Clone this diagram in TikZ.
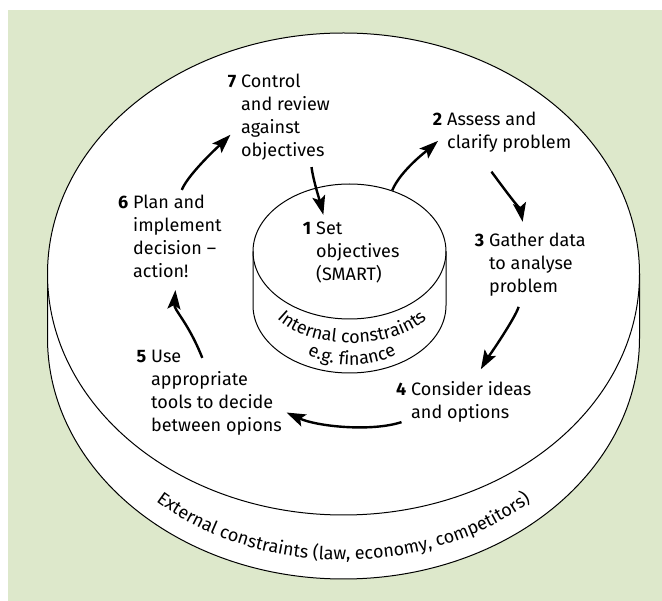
\documentclass[tikz,border=0pt]{standalone}
\usepackage{fontspec}
\setmainfont{Fira Sans}
\usetikzlibrary{arrows.meta}
\usetikzlibrary{positioning, shapes.geometric}
\usetikzlibrary{decorations.text}
\definecolor{envgreen}{RGB}{221,232,203}
\newcommand{\stagelines}[1]{\begin{tabular}[t]{@{}l@{}}#1\end{tabular}}

\begin{document}
\begin{tikzpicture}[
		x=1pt, y=-1pt,
		font=\fontsize{18}{23}\selectfont,
		rim/.style={line width=1pt},
		stage/.style={inner sep=0pt, anchor=base west},
		num/.style={font=\fontsize{18}{23}\selectfont\bfseries, inner sep=0pt, anchor=base east},
		flow/.style={line width=2.4pt, -{Stealth[length=19pt, width=13pt, inset=4pt]}},
		curved/.style={decorate, decoration={text along path, text align=center,
			text={|\fontsize{18}{23}\selectfont|#1}}}
	]
	\useasboundingbox (0,0) rectangle (662,601);
	\fill[envgreen] (8,10) rectangle (662,601);

	% outer cylinder
	\fill[white] (47.5,274) -- (47.5,338) arc[start angle=180, end angle=360, x radius=296pt, y radius=241pt] -- (639.5,274) -- cycle;
	\draw[rim] (47.5,274) -- (47.5,338) arc[start angle=180, end angle=360, x radius=296pt, y radius=241pt] -- (639.5,274);
	\node[rim, ellipse, draw, fill=white, inner sep=0pt, minimum width=592pt, minimum height=482pt] (outer) at (343.5,274) {};

	% inner cylinder
	\draw[rim] (253,251.5) -- (253,305.5) arc[start angle=180, end angle=360, x radius=96.5pt, y radius=67.5pt] -- (446,251.5);
	\node[rim, ellipse, draw, inner sep=0pt, minimum width=193pt, minimum height=135pt] (inner) at (349.5,251.5) {};

	\path[curved={Internal constraints}] (267,297) arc[start angle=180, end angle=360, x radius=85pt, y radius=46pt];
	\path[curved={e.g. finance}] (272,303) arc[start angle=180, end angle=360, x radius=80pt, y radius=62pt];
	\path[curved={External constraints (law, economy, competitors)}] (66.5,338) arc[start angle=180, end angle=360, x radius=277pt, y radius=222pt];

	\node[stage] (set) at (316,235) {\stagelines{Set\\objectives\\(SMART)}};
	\node[num] (n1) at ([xshift=-4.5pt]set.base west) {1};
	\node[stage] (assess) at (447,126) {\stagelines{Assess and\\clarify problem}};
	\node[num] (n2) at ([xshift=-4.5pt]assess.base west) {2};
	\node[stage] (gather) at (489,247) {\stagelines{Gather data\\to analyse\\problem}};
	\node[num] (n3) at ([xshift=-4.5pt]gather.base west) {3};
	\node[stage] (consider) at (411,396) {\stagelines{Consider ideas\\and options}};
	\node[num] (n4) at ([xshift=-4.5pt]consider.base west) {4};
	\node[stage] (use) at (151,363) {\stagelines{Use\\appropriate\\tools to decide\\between opions}};
	\node[num] (n5) at ([xshift=-4.5pt]use.base west) {5};
	\node[stage] (plan) at (133,209) {\stagelines{Plan and\\implement\\decision --\\action!}};
	\node[num] (n6) at ([xshift=-4.5pt]plan.base west) {6};
	\node[stage] (control) at (241,88) {\stagelines{Control\\and review\\against\\objectives}};
	\node[num] (n7) at ([xshift=-4.5pt]control.base west) {7};

	\draw[flow, shorten <=3pt, shorten >=4pt] (control.-61) .. controls +(2,16) and +(-4,-16) .. (set.134);
	\draw[flow, shorten >=12pt] (inner.55) .. controls +(8,-20) and +(-18,16) .. (assess.west);
	\draw[flow, shorten <=18pt, shorten >=9pt] (assess.-139) .. controls +(8,14) and +(-3,-18) .. (gather.111);
	\draw[flow, shorten <=7pt, shorten >=12pt] (gather.-116) .. controls +(-5,18) and +(8,-14) .. (consider.81);
	\draw[flow, shorten <=10pt, shorten >=5pt] (consider.195) .. controls +(-40,13) and +(35,16) .. (use.-15);
	\draw[flow, shorten <=-12pt, shorten >=5pt] (use.112) .. controls +(-10,-25) and +(-2,25) .. (plan.-92);
	\draw[flow, shorten <=3pt, shorten >=15pt] (plan.86) .. controls +(8,-20) and +(-15,15) .. (control.188);
\end{tikzpicture}
\end{document}
